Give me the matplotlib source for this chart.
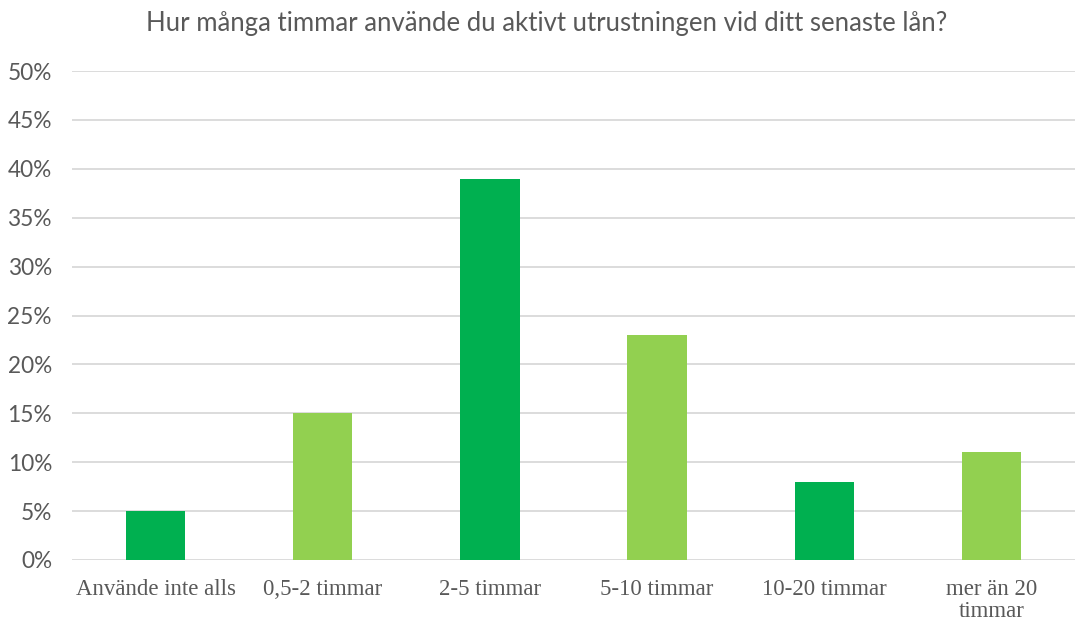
import matplotlib
matplotlib.use("Agg")
import matplotlib.pyplot as plt
from matplotlib.ticker import PercentFormatter

categories = ["Använde inte alls", "0,5-2 timmar", "2-5 timmar", "5-10 timmar",
              "10-20 timmar", "mer än 20\ntimmar"]
values = [5, 15, 39, 23, 8, 11]
colors = ["#00B050", "#92D050", "#00B050", "#92D050", "#00B050", "#92D050"]
yticks = [0, 5, 10, 15, 20, 25, 30, 35, 40, 45, 50]
title = "Hur många timmar använde du aktivt utrustningen vid ditt senaste lån?"

W, H = 1083, 625
fig = plt.figure(figsize=(W / 100, H / 100), dpi=100)
left, right, top, bottom = 72, 1075, 71, 560
ax = fig.add_axes([left / W, 1 - bottom / H, (right - left) / W, (bottom - top) / H])

x = range(len(categories))
ax.bar(x, values, width=0.355, color=colors, zorder=3)
ax.set_xlim(-0.5, len(categories) - 0.5)
ax.set_ylim(0, 50)
ax.set_yticks(yticks)
ax.yaxis.set_major_formatter(PercentFormatter(decimals=0))
ax.grid(axis="y", color="#D9D9D9", linewidth=1.3, zorder=0)
for s in ax.spines.values():
    s.set_visible(False)
ax.tick_params(axis="both", length=0)
ax.tick_params(axis="y", pad=14.4, labelsize=16.3, labelcolor="#595959")
for lab in ax.get_yticklabels():
    lab.set_fontfamily("Lato")
ax.set_xticks(list(x))
ax.set_xticklabels(categories, fontfamily="Liberation Serif", fontsize=16.5,
                   color="#595959", linespacing=1.05)
ax.tick_params(axis="x", pad=14)

fig.text(547 / W, 1 - 24 / H, title, ha="center", va="center",
         fontfamily="Lato", fontsize=18.5, color="#595959")

fig.savefig("out.png", dpi=100)
